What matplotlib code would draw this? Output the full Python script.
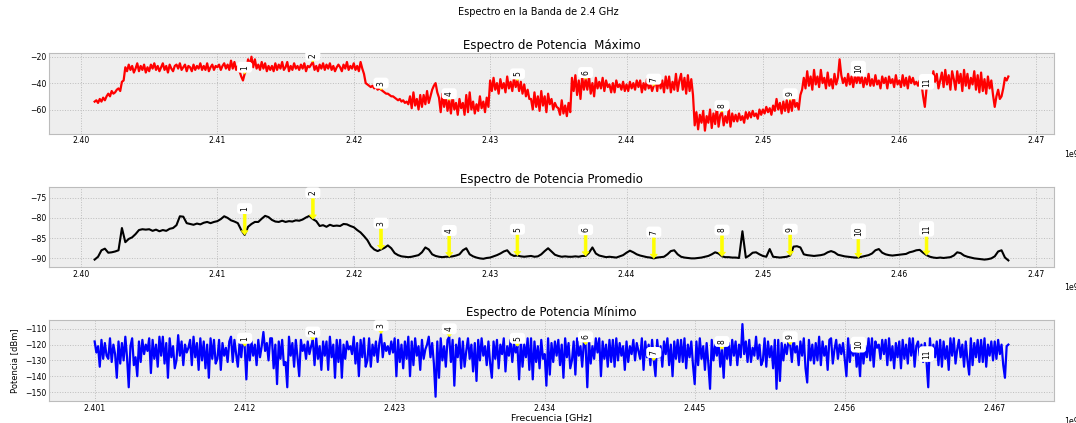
import numpy as np
import matplotlib
matplotlib.use('Agg')
import matplotlib.pyplot as plt
from matplotlib.ticker import MultipleLocator

# sweep bins from 2.401 GHz to 2.468 GHz
freq_fine_ghz = np.linspace(2.401, 2.468, 537)   # 125 kHz (max / min hold)
freq_ghz = np.linspace(2.401, 2.468, 269)        # 250 kHz (average)

channels = [1, 2, 3, 4, 5, 6, 7, 8, 9, 10, 11]
channel_ghz = [2.412, 2.417, 2.422, 2.427, 2.432, 2.437, 2.442, 2.447, 2.452, 2.457, 2.462]

# max hold (dBm), one row per MHz
power_max = [
    -54, -53, -55, -52, -54, -51, -53, -50,
    -48, -50, -46, -48, -47, -45, -44, -46,
    -39, -38, -28, -31, -26, -30, -27, -32,
    -29, -25, -31, -27, -30, -26, -32, -28,
    -31, -26, -29, -25, -30, -27, -31, -28,
    -25, -30, -27, -32, -26, -29, -31, -27,
    -26, -29, -25, -30, -28, -26, -31, -27,
    -28, -31, -26, -30, -27, -29, -25, -30,
    -27, -30, -25, -31, -28, -26, -30, -27,
    -28, -26, -30, -27, -25, -29, -26, -30,
    -23, -29, -24, -30, -27, -31, -35, -38,
    -33, -30, -22, -27, -20, -28, -22, -29,
    -26, -30, -24, -29, -25, -31, -27, -30,
    -27, -31, -25, -30, -26, -29, -24, -30,
    -28, -24, -31, -27, -30, -25, -29, -27,
    -30, -26, -29, -25, -31, -27, -28, -26,
    -24, -30, -27, -31, -26, -29, -25, -30,
    -26, -29, -25, -30, -27, -31, -28, -26,
    -28, -31, -26, -29, -24, -30, -27, -29,
    -25, -30, -27, -31, -24, -29, -33, -40,
    -41, -42, -43, -42, -44, -43, -45, -44,
    -45, -46, -47, -48, -48, -49, -50, -50,
    -51, -52, -53, -52, -54, -53, -55, -54,
    -56, -50, -59, -47, -57, -52, -60, -49,
    -58, -49, -56, -46, -55, -50, -45, -42,
    -40, -47, -51, -62, -48, -58, -50, -61,
    -53, -63, -50, -60, -55, -64, -52, -59,
    -55, -64, -49, -62, -47, -60, -54, -63,
    -56, -61, -50, -59, -54, -62, -51, -58,
    -38, -46, -36, -45, -40, -48, -37, -44,
    -40, -47, -35, -44, -39, -46, -36, -43,
    -38, -46, -39, -48, -41, -50, -45, -52,
    -52, -60, -47, -58, -50, -61, -46, -57,
    -50, -62, -48, -56, -52, -60, -55, -58,
    -59, -64, -53, -63, -57, -65, -55, -62,
    -36, -46, -34, -49, -38, -52, -35, -45,
    -37, -45, -35, -48, -40, -50, -36, -44,
    -39, -44, -36, -46, -38, -43, -41, -47,
    -40, -47, -38, -43, -41, -45, -39, -46,
    -41, -46, -39, -44, -40, -45, -38, -43,
    -38, -47, -40, -45, -37, -44, -41, -46,
    -42, -37, -46, -36, -44, -38, -47, -35,
    -44, -35, -47, -39, -45, -33, -46, -38,
    -33, -45, -36, -48, -34, -46, -37, -49,
    -72, -62, -75, -64, -70, -61, -76, -65,
    -70, -60, -74, -63, -71, -58, -73, -64,
    -62, -72, -65, -70, -60, -73, -63, -69,
    -64, -69, -63, -68, -65, -70, -62, -67,
    -62, -66, -61, -65, -63, -67, -60, -64,
    -60, -63, -58, -62, -59, -64, -57, -61,
    -52, -60, -55, -63, -54, -61, -53, -62,
    -53, -61, -50, -58, -55, -60, -49, -45,
    -36, -44, -31, -42, -35, -45, -30, -41,
    -35, -43, -30, -40, -36, -44, -32, -42,
    -37, -44, -33, -41, -36, -22, -34, -40,
    -36, -42, -33, -41, -35, -43, -34, -40,
    -34, -40, -35, -43, -36, -41, -33, -42,
    -37, -42, -34, -41, -38, -44, -35, -40,
    -36, -44, -35, -40, -37, -43, -34, -41,
    -38, -43, -34, -42, -36, -44, -35, -40,
    -36, -41, -39, -42, -38, -40, -50, -58,
    -44, -40, -34, -42, -31, -39, -33, -44,
    -38, -32, -43, -30, -41, -34, -45, -31,
    -37, -45, -31, -40, -33, -46, -30, -42,
    -33, -44, -36, -41, -31, -45, -34, -47,
    -32, -46, -37, -48, -35, -44, -38, -49,
    -58, -50, -45, -52, -50, -44, -36, -38,
    -35,
]

# average (dBm), one row per MHz
power_avg = [
    -90.3, -89.6, -88.0, -87.6, -88.6, -88.5, -88.3, -88.0, -82.5, -86.0, -85.2, -84.8,
    -84.0, -83.0, -82.8, -82.9, -82.8, -83.2, -82.9, -83.3, -83.0, -83.2, -82.7, -82.5,
    -81.8, -79.6, -79.7, -81.3, -81.5, -81.7, -81.4, -81.6, -81.2, -81.0, -81.3, -81.0,
    -80.8, -80.3, -79.6, -80.0, -80.6, -80.9, -81.3, -83.0, -84.2, -82.2, -81.5, -81.0,
    -81.0, -80.2, -79.5, -79.8, -80.5, -80.9, -81.0, -80.7, -81.0, -80.8, -80.9, -80.6,
    -80.7, -80.4, -79.9, -79.5, -80.3, -80.8, -82.0, -81.8, -82.2, -81.7, -82.0, -81.9,
    -82.0, -81.5, -81.6, -82.0, -82.3, -83.0, -83.6, -84.5, -85.5, -87.0, -87.8, -88.2,
    -87.8, -87.4, -86.8, -87.5, -88.7, -89.2, -89.5, -89.6, -89.7, -89.6, -89.4, -89.2,
    -88.5, -87.3, -87.8, -89.0, -89.4, -89.6, -89.7, -89.6, -89.6, -89.5, -89.3, -89.0,
    -88.0, -87.5, -89.0, -89.5, -89.8, -90.0, -90.1, -89.9, -89.8, -89.5, -89.2, -88.8,
    -88.3, -88.0, -89.0, -89.4, -89.3, -89.5, -89.6, -89.5, -89.4, -89.6, -89.5, -89.0,
    -88.2, -87.5, -88.3, -89.1, -89.4, -89.6, -89.5, -89.6, -89.6, -89.5, -89.6, -89.4,
    -89.4, -88.6, -87.3, -88.8, -89.3, -89.5, -89.7, -89.6, -89.7, -89.8, -89.5, -89.2,
    -88.6, -88.1, -88.5, -89.0, -89.3, -89.5, -89.7, -89.8, -90.0, -89.8, -89.7, -89.6,
    -89.0, -88.2, -88.0, -89.0, -89.6, -89.8, -89.9, -90.0, -90.0, -89.9, -89.8, -89.6,
    -89.4, -89.0, -88.5, -88.8, -89.5, -89.7, -89.7, -89.8, -89.8, -89.9, -83.3, -89.8,
    -89.3, -88.6, -88.5, -89.0, -89.4, -89.6, -87.7, -89.6, -89.7, -89.8, -89.7, -89.6,
    -89.3, -87.1, -87.0, -87.3, -89.0, -89.2, -89.3, -89.4, -89.3, -89.2, -89.0, -88.5,
    -88.2, -88.5, -89.1, -89.3, -89.5, -89.6, -89.7, -89.8, -89.8, -89.6, -89.4, -89.2,
    -88.8, -88.0, -87.7, -88.6, -89.0, -89.2, -89.3, -89.2, -89.1, -89.0, -88.9, -88.5,
    -88.3, -88.0, -87.9, -88.6, -89.2, -89.6, -89.8, -89.9, -89.8, -89.9, -89.8, -89.7,
    -89.3, -88.5, -88.7, -89.3, -89.6, -89.8, -90.0, -90.1, -90.2, -90.3, -90.2, -90.0,
    -89.5, -88.3, -88.0, -89.8, -90.5,
]

# min hold (dBm), one row per MHz
power_min = [
    -118, -125, -121, -134, -117, -129, -119, -127,
    -129, -116, -131, -120, -126, -141, -118, -132,
    -119, -130, -115, -128, -147, -121, -116, -133,
    -128, -140, -118, -131, -117, -126, -120, -124,
    -116, -138, -117, -129, -120, -134, -115, -127,
    -115, -132, -119, -141, -116, -128, -121, -135,
    -130, -114, -127, -118, -133, -120, -125, -122,
    -117, -133, -115, -128, -119, -136, -116, -130,
    -118, -135, -120, -141, -116, -129, -117, -132,
    -129, -117, -136, -119, -127, -122, -131, -118,
    -115, -131, -117, -126, -134, -119, -128, -116,
    -121, -142, -116, -130, -118, -127, -120, -133,
    -117, -128, -121, -112, -124, -119, -130, -116,
    -116, -135, -120, -145, -118, -129, -117, -133,
    -131, -147, -115, -127, -119, -134, -117, -128,
    -140, -117, -124, -120, -129, -118, -126, -121,
    -117, -133, -116, -129, -121, -136, -118, -127,
    -118, -136, -115, -128, -120, -141, -117, -131,
    -117, -141, -120, -129, -118, -123, -121, -126,
    -115, -132, -119, -140, -117, -128, -116, -134,
    -130, -116, -134, -120, -127, -118, -131, -119,
    -113, -128, -119, -124, -121, -126, -118, -125,
    -116, -140, -117, -131, -120, -135, -118, -129,
    -115, -140, -118, -133, -116, -127, -121, -136,
    -117, -129, -123, -120, -115, -128, -119, -132,
    -153, -118, -141, -116, -130, -121, -134, -117,
    -115, -131, -117, -146, -120, -128, -116, -135,
    -118, -134, -124, -116, -129, -120, -137, -119,
    -143, -117, -130, -116, -127, -121, -133, -118,
    -132, -141, -118, -129, -117, -135, -120, -126,
    -116, -137, -121, -127, -117, -131, -119, -125,
    -121, -142, -117, -134, -120, -128, -116, -136,
    -116, -142, -118, -131, -121, -135, -117, -129,
    -126, -146, -116, -139, -119, -131, -118, -127,
    -117, -133, -120, -141, -116, -128, -119, -135,
    -130, -118, -139, -116, -127, -121, -134, -118,
    -120, -147, -117, -132, -121, -129, -116, -125,
    -116, -140, -118, -129, -120, -134, -117, -131,
    -117, -134, -116, -130, -119, -127, -121, -136,
    -118, -131, -121, -126, -117, -130, -119, -124,
    -129, -116, -136, -118, -128, -120, -133, -117,
    -130, -140, -117, -128, -121, -134, -118, -126,
    -116, -133, -120, -140, -118, -129, -117, -131,
    -117, -131, -116, -135, -120, -128, -118, -133,
    -145, -118, -133, -116, -129, -121, -136, -119,
    -132, -148, -117, -130, -120, -127, -118, -134,
    -123, -141, -116, -129, -119, -133, -117, -127,
    -118, -133, -120, -128, -107, -126, -118, -131,
    -117, -131, -122, -127, -115, -129, -120, -133,
    -130, -116, -134, -118, -128, -121, -135, -117,
    -148, -117, -143, -119, -130, -120, -126, -118,
    -120, -131, -116, -125, -121, -133, -118, -127,
    -116, -135, -144, -117, -130, -120, -132, -119,
    -130, -115, -133, -118, -127, -121, -136, -117,
    -116, -132, -123, -117, -129, -120, -126, -119,
    -129, -140, -116, -131, -120, -127, -118, -134,
    -125, -140, -117, -132, -121, -128, -116, -130,
    -116, -134, -118, -122, -120, -129, -117, -126,
    -117, -133, -116, -130, -121, -135, -119, -128,
    -118, -135, -117, -129, -120, -132, -116, -127,
    -116, -134, -121, -118, -127, -120, -131, -119,
    -131, -147, -116, -130, -120, -128, -118, -133,
    -117, -134, -118, -129, -121, -136, -116, -127,
    -116, -132, -123, -117, -128, -120, -134, -118,
    -130, -139, -116, -133, -119, -128, -117, -131,
    -117, -131, -116, -134, -120, -127, -118, -130,
    -118, -129, -117, -126, -120, -133, -141, -121,
    -120,
]

plt.style.use('bmh')
plt.rcParams['font.family'] = 'DejaVu Sans'

fig, axes = plt.subplots(3, 1, figsize=(10.76, 4.23), dpi=100)
fig.subplots_adjust(left=0.0455, right=0.9796, top=0.8747, bottom=0.0520, hspace=0.66)
fig.suptitle('Espectro en la Banda de 2.4 GHz', fontsize=7, y=0.972, va='center')

panels = [
    ('Espectro de Potencia  Máximo', freq_fine_ghz, power_max, 'red', 1.6, (-78.2, -17.2), 20, 5.0),
    ('Espectro de Potencia Promedio', freq_ghz, power_avg, 'black', 1.5, (-92.2, -72.3), 5, 6.5),
    ('Espectro de Potencia Mínimo', freq_fine_ghz, power_min, 'blue', 1.6, (-155.7, -104.7), 10, 5.0),
]

for ax, (title, freq, values, color, lw, ylim, ystep, lift) in zip(axes, panels):
    ax.plot(freq * 1e9, values, color=color, linewidth=lw)
    ax.set_title(title, fontsize=8.5, pad=3)
    ax.set_ylim(*ylim)
    ax.yaxis.set_major_locator(MultipleLocator(ystep))
    ax.xaxis.set_major_locator(MultipleLocator(0.01e9))
    ax.tick_params(labelsize=5.6, length=0, pad=2)
    ax.grid(True, linestyle=':', linewidth=0.7, color='#bdbdbd')
    offset = ax.xaxis.get_offset_text()
    offset.set_fontsize(5.6)
    offset.set_x(1.01)
    offset.set_horizontalalignment('left')

    # channel markers
    for ch, f in zip(channels, channel_ghz):
        level = np.interp(f, freq, values)
        ax.annotate(str(ch), xy=(f * 1e9, level), xytext=(f * 1e9, level + lift),
                    ha='center', va='center', rotation=90, fontsize=5.5,
                    bbox=dict(boxstyle='round,pad=0.4', fc='white', ec='none'),
                    arrowprops=dict(facecolor='yellow', edgecolor='yellow',
                                    width=2, headwidth=5, headlength=3))

bottom = axes[2]
bottom.set_xticks([2.401e9 + 0.011e9 * k for k in range(7)])
bottom.set_xlabel('Frecuencia [GHz]', fontsize=6.8, labelpad=0)
bottom.set_ylabel('Potencia [dBm]', fontsize=6)

plt.savefig('out.png', dpi=100)
